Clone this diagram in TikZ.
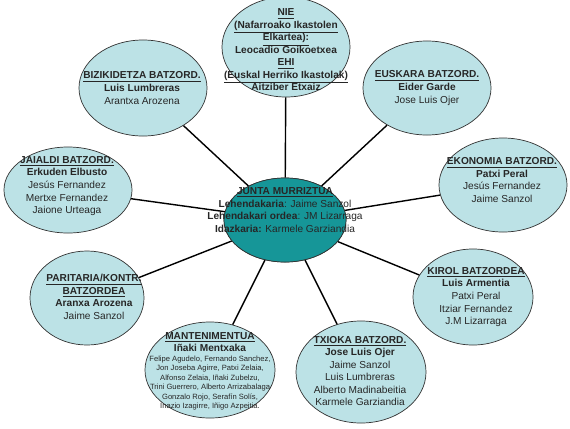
\documentclass[tikz,border=0pt]{standalone}
\usepackage{fontspec}
\setmainfont{Liberation Sans}
\usetikzlibrary{shapes.geometric}

\definecolor{batzfill}{RGB}{188,226,230}
\definecolor{juntafill}{RGB}{22,150,152}
\newcommand{\tit}[1]{\textbf{\underline{#1}}}

\tikzset{
  batz/.style={ellipse, draw=black!80, line width=.5pt, fill=batzfill, inner sep=0pt},
  txt/.style={align=center, inner sep=0pt, text=black!85, font=\fontsize{7.2}{8.9}\selectfont},
  smalltxt/.style={align=center, inner sep=0pt, text=black!85, font=\fontsize{5.4}{6.8}\selectfont},
  link/.style={line width=1pt, black}
}

\begin{document}
\begin{tikzpicture}[x=0.025cm, y=-0.025cm]
\useasboundingbox (0,0) rectangle (570,428);
% ellipses
\node[batz, minimum width=3.2cm, minimum height=2.5cm] (nie) at (286,47) {};
\node[batz, minimum width=3.2cm, minimum height=2.4cm] (bizi) at (143,88) {};
\node[batz, minimum width=3.2cm, minimum height=2.35cm] (euskara) at (427,88) {};
\node[batz, minimum width=3.2cm, minimum height=2.15cm] (jaialdi) at (68,190) {};
\node[batz, minimum width=3.2cm, minimum height=2.35cm] (ekonomia) at (503,185) {};
\node[ellipse, draw=black!80, line width=.5pt, fill=juntafill, minimum width=3.05cm, minimum height=2.1cm, inner sep=0pt] (junta) at (285,220) {};
\node[batz, minimum width=2.85cm, minimum height=2.35cm] (paritaria) at (87,298) {};
\node[batz, minimum width=3cm, minimum height=2.4cm] (kirol) at (473,297) {};
\node[batz, minimum width=3.25cm, minimum height=2.4cm] (mant) at (210,370) {};
\node[batz, minimum width=3.25cm, minimum height=2.55cm] (txioka) at (361,372) {};

% connectors
\foreach \b in {nie,bizi,euskara,jaialdi,ekonomia,paritaria,kirol,mant,txioka}
  \draw[link] (junta) -- (\b);
\node[ellipse, draw=black!80, line width=.5pt, fill=juntafill, minimum width=3.05cm, minimum height=2.1cm, inner sep=0pt] at (junta) {};

% texts
\node[txt] (nietxt) at (286,50) {\tit{NIE}\\ \tit{(Nafarroako Ikastolen}\\ \tit{Elkartea):}\\ \textbf{Leocadio Goikoetxea}\\ \tit{EHI}\\ \tit{(Euskal Herriko Ikastolak)}\\ \textbf{Aitziber Etxaiz}};
\node[txt] (bizitxt) at (142,88) {\tit{BIZIKIDETZA BATZORD.}\\ \textbf{Luis Lumbreras}\\ Arantxa Arozena};
\node[txt] (euskaratxt) at (427,88) {\tit{EUSKARA BATZORD.}\\ \textbf{Eider Garde}\\ Jose Luis Ojer};
\node[txt] (jaialditxt) at (67,186) {\tit{JAIALDI BATZORD.}\\ \textbf{Erkuden Elbusto}\\ Jesús Fernandez\\ Mertxe Fernandez\\ Jaione Urteaga};
\node[txt] (ekonomiatxt) at (502,180) {\tit{EKONOMIA BATZORD.}\\ \textbf{Patxi Peral}\\ Jesús Fernandez\\ Jaime Sanzol};
\node[txt] (juntatxt) at (285,210) {\tit{JUNTA MURRIZTUA}\\ \textbf{Lehendakaria}: Jaime Sanzol\\ \textbf{Lehendakari ordea}: JM Lizarraga\\ \textbf{Idazkaria:} Karmele Garziandia};
\node[txt] (paritariatxt) at (94,297) {\tit{PARITARIA/KONTR.}\\ \tit{BATZORDEA}\\ \textbf{Aranxa Arozena}\\ Jaime Sanzol};
\node[txt] (kiroltxt) at (476,297) {\tit{KIROL BATZORDEA}\\ \textbf{Luis Armentia}\\ Patxi Peral\\ Itziar Fernandez\\ J.M Lizarraga};
\node[txt] (manttxt) at (210,342) {\tit{MANTENIMENTUA}\\ \textbf{Iñaki Mentxaka}};
\node[smalltxt] (mantlist) at (210,383) {Felipe Agudelo, Fernando Sanchez,\\ Jon Joseba Agirre, Patxi Zelaia,\\ Alfonso Zelaia, Iñaki Zubelzu,\\ Trini Guerrero, Alberto Arrizabalaga\\ Gonzalo Rojo, Serafín Solís,\\ Inazio Izagirre, Iñigo Azpeitia.};
\node[txt] (txiokatxt) at (360,371) {\tit{TXIOKA BATZORD.}\\ \textbf{Jose Luis Ojer}\\ Jaime Sanzol\\ Luis Lumbreras\\ Alberto Madinabeitia\\ Karmele Garziandia};
\end{tikzpicture}
\end{document}
